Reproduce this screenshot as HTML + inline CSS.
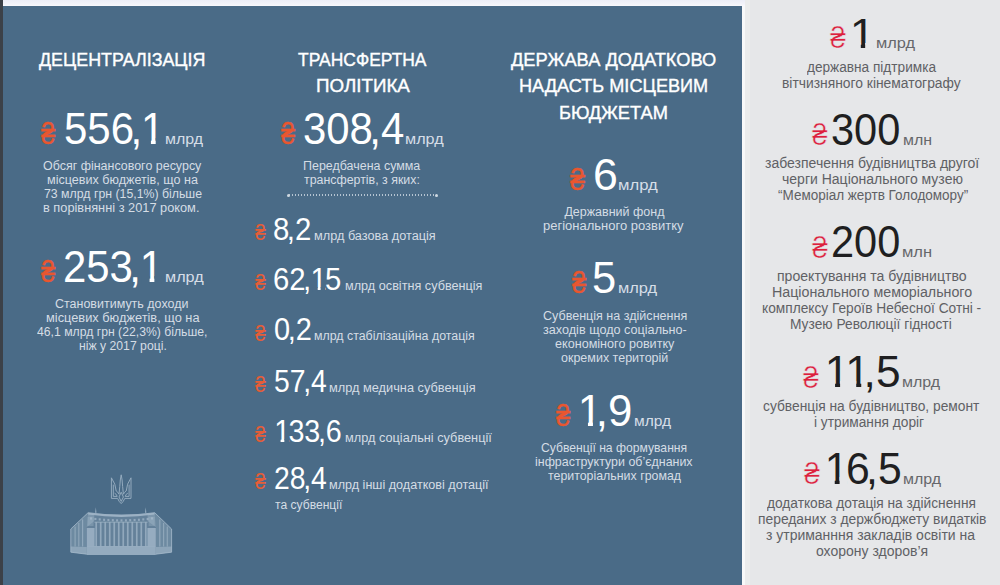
<!DOCTYPE html>
<html lang="uk"><head><meta charset="utf-8"><title>Бюджет 2018</title>
<style>
html,body{margin:0;padding:0}
body{width:1000px;height:585px;position:relative;overflow:hidden;background:#e6e7e9;font-family:"Liberation Sans",sans-serif}
.top{position:absolute;left:0;top:0;width:745px;height:6.5px;background:linear-gradient(#eceef7,#f3f4fa 60%,#fdfdfe)}
.panel{position:absolute;left:3px;top:6px;width:739px;height:579px;background:#4a6b87}
.edge{position:absolute;left:0;top:0;width:3px;height:585px;background:#3c4148}
.sep{position:absolute;left:742px;top:6px;width:3px;height:579px;background:#f8f9f9}
.sep2{position:absolute;left:745px;top:0;width:5px;height:585px;background:#ebecec}
h2,p,ul,li{margin:0;padding:0;list-style:none;font-size:inherit;font-weight:400}
.t{position:absolute;display:block;white-space:nowrap;line-height:1;margin:0;font-weight:400}
.cm{margin:0 0 0 -.085em;position:relative;z-index:1}
.o{position:relative;display:inline-block;margin:0 -.06em 0 -.03em}
.o:before,.o:after{content:"";position:absolute;bottom:.11em;height:.19em;background:#4a6b87}
.o:before{left:.04em;width:.2em}
.o:after{left:.351em;width:.175em}
.o.g:before,.o.g:after{background:#e6e7e9}
.dots{position:absolute;left:289px;top:194px;width:147px;height:2px;background:repeating-linear-gradient(90deg,#b4c3d1 0,#b4c3d1 1.5px,rgba(180,195,209,0) 1.5px,rgba(180,195,209,0) 3px)}
.dots:before,.dots:after{content:"";position:absolute;top:-0.5px;width:3px;height:3px;border-radius:50%;background:#cfd9e2}
.dots:before{left:-2px}.dots:after{right:-2px}
</style></head><body>
<div class="top"></div><div class="panel"></div><div class="edge"></div><div class="sep"></div><div class="sep2"></div>
<main>
<section class="col c1">
<h2>
<span class="t" style="font-size:19.2px;top:49.75px;color:#ffffff;left:38.60px;transform:scaleX(0.9307);transform-origin:0 50%;-webkit-text-stroke:0.4px #fff;">ДЕЦЕНТРАЛІЗАЦІЯ</span>
</h2>
<div class="stat">
<span class="t" style="font-size:29.2px;top:119.58px;color:#e9562f;left:41.00px;transform:scaleX(0.8789);transform-origin:0 50%;-webkit-text-stroke:0.35px #e9562f;">₴</span>
<span class="t" style="font-size:44px;top:106.95px;color:#ffffff;left:64.00px;transform:scaleX(0.9552);transform-origin:0 50%;">556<span class="cm">,</span><span class="o">1</span></span>
<span class="t" style="font-size:15.5px;top:131.08px;color:#d6dee7;left:165.00px;transform:scaleX(1.028);transform-origin:0 50%;">млрд</span>
</div>
<div class="stat">
<span class="t" style="font-size:29.2px;top:257.58px;color:#e9562f;left:41.00px;transform:scaleX(0.8789);transform-origin:0 50%;-webkit-text-stroke:0.35px #e9562f;">₴</span>
<span class="t" style="font-size:44px;top:244.95px;color:#ffffff;left:63.00px;transform:scaleX(0.9516);transform-origin:0 50%;">253<span class="cm">,</span><span class="o">1</span></span>
<span class="t" style="font-size:15.5px;top:269.08px;color:#d6dee7;left:165.00px;transform:scaleX(1.045);transform-origin:0 50%;">млрд</span>
</div>
<p>
<span class="t" style="font-size:12.5px;top:159.62px;color:#d5dde5;left:43.20px;transform:scaleX(0.997);transform-origin:0 50%;">Обсяг фінансового ресурсу</span>
<span class="t" style="font-size:12.5px;top:174.42px;color:#d5dde5;left:47.00px;transform:scaleX(1.007);transform-origin:0 50%;">місцевих бюджетів, що на</span>
<span class="t" style="font-size:12.5px;top:188.22px;color:#d5dde5;left:43.80px;transform:scaleX(0.9842);transform-origin:0 50%;">73 млрд грн (15,1%) більше</span>
<span class="t" style="font-size:12.5px;top:202.02px;color:#d5dde5;left:42.80px;transform:scaleX(1.023);transform-origin:0 50%;">в порівнянні з 2017 роком.</span>
</p>
<p>
<span class="t" style="font-size:12.5px;top:297.62px;color:#d5dde5;left:55.00px;transform:scaleX(0.9985);transform-origin:0 50%;">Становитимуть доходи</span>
<span class="t" style="font-size:12.5px;top:312.42px;color:#d5dde5;left:46.00px;transform:scaleX(1.024);transform-origin:0 50%;">місцевих бюджетів, що на</span>
<span class="t" style="font-size:12.5px;top:326.32px;color:#d5dde5;left:37.00px;transform:scaleX(0.977);transform-origin:0 50%;">46,1 млрд грн (22,3%) більше,</span>
<span class="t" style="font-size:12.5px;top:339.62px;color:#d5dde5;left:79.00px;transform:scaleX(0.9773);transform-origin:0 50%;">ніж у 2017 році.</span>
</p>
<svg class="ico" width="130" height="95" viewBox="60 468 130 95" style="position:absolute;left:60px;top:468px">
<g fill="none" stroke="#a9bdce" stroke-width="0.95" stroke-linejoin="round" opacity="0.81">
<path d="M111.4,477.8 V498.4 H117.6 Q119,501.8 121.2,503.6 Q123.4,501.8 124.8,498.4 H131 V477.8 Q126.6,484 126.2,491 Q124.4,492 123.4,494.2 Q122.5,486 122.1,480 L121.2,474.8 L120.3,480 Q119.9,486 119,494.2 Q118,492 116.2,491 Q115.8,484 111.4,477.8 Z"/>
<path d="M113.3,484.6 V496.4 H117.2 Q116.6,494 114.6,493.2 M129.1,484.6 V496.4 H125.2 Q125.8,494 127.8,493.2"/>
<path d="M121.2,492.2 L119,497 L121.2,501.4 L123.4,497 Z"/>
</g>
<g fill="#a9bdce">
<path d="M88.2,512.6 L70.8,529 L70.8,552.2 L86.8,554.2 L86.8,527 L94.3,521 L94.3,515 Z" opacity="0.38"/>
<path d="M154.6,512.6 L171.6,529 L171.6,552.2 L155.8,554.2 L155.8,527 L147.6,521 L147.6,515 Z" opacity="0.38"/>
<path d="M88.2,512.6 L70.8,529 L70.8,552.2 L86.8,554.2" fill="none" stroke="#a9bdce" stroke-width="1" opacity="0.77"/>
<path d="M154.6,512.6 L171.6,529 L171.6,552.2 L155.8,554.2" fill="none" stroke="#a9bdce" stroke-width="1" opacity="0.77"/>
<path d="M70.8,546.5 L86.8,547 L86.8,554.2 L70.8,552.2 Z" opacity="0.54"/>
<path d="M171.6,546.5 L155.8,547 L155.8,554.2 L171.6,552.2 Z" opacity="0.54"/>
<rect x="74.5" y="526.5" width="1.2" height="20.0" opacity="0.55"/>
<rect x="166.7" y="526.5" width="1.2" height="20.0" opacity="0.55"/>
<rect x="78.2" y="523.0" width="1.2" height="23.5" opacity="0.55"/>
<rect x="163.0" y="523.0" width="1.2" height="23.5" opacity="0.55"/>
<rect x="82.0" y="519.4" width="1.2" height="27.1" opacity="0.60"/>
<rect x="159.2" y="519.4" width="1.2" height="27.1" opacity="0.60"/>
<path d="M88.2,512.6 Q121.4,517.4 154.6,512.6 L155.8,527 L155.8,546.2 L86.8,546.2 L86.8,527 Z" opacity="0.27"/>
<path d="M88.2,512.2 Q121.4,517 154.6,512.2 L154.6,514.6 Q121.4,519.4 88.2,514.6 Z" opacity="0.81"/>
<rect x="90.0" y="517.4" width="2" height="2.2" opacity="0.68"/>
<rect x="94.4" y="517.9" width="2" height="2.2" opacity="0.68"/>
<rect x="98.7" y="518.3" width="2" height="2.2" opacity="0.68"/>
<rect x="103.1" y="518.7" width="2" height="2.2" opacity="0.68"/>
<rect x="107.4" y="518.9" width="2" height="2.2" opacity="0.68"/>
<rect x="111.8" y="519.1" width="2" height="2.2" opacity="0.68"/>
<rect x="116.1" y="519.3" width="2" height="2.2" opacity="0.68"/>
<rect x="120.5" y="519.3" width="2" height="2.2" opacity="0.68"/>
<rect x="124.9" y="519.3" width="2" height="2.2" opacity="0.68"/>
<rect x="129.2" y="519.1" width="2" height="2.2" opacity="0.68"/>
<rect x="133.6" y="518.9" width="2" height="2.2" opacity="0.68"/>
<rect x="137.9" y="518.7" width="2" height="2.2" opacity="0.68"/>
<rect x="142.3" y="518.3" width="2" height="2.2" opacity="0.68"/>
<rect x="146.6" y="517.9" width="2" height="2.2" opacity="0.68"/>
<rect x="151.0" y="517.3" width="2" height="2.2" opacity="0.68"/>
<rect x="86.8" y="528" width="7.8" height="18.2" opacity="0.72"/>
<rect x="147.4" y="528" width="8.4" height="18.2" opacity="0.72"/>
<rect x="87.6" y="517" width="6" height="9" opacity="0.32"/>
<rect x="148.6" y="517" width="6" height="9" opacity="0.32"/>
<rect x="95.35" y="522.2" width="1.7" height="24" opacity="0.65"/>
<rect x="99.86" y="522.2" width="1.7" height="24" opacity="0.65"/>
<rect x="104.37" y="522.2" width="1.7" height="24" opacity="0.65"/>
<rect x="108.88" y="522.2" width="1.7" height="24" opacity="0.65"/>
<rect x="113.39" y="522.2" width="1.7" height="24" opacity="0.65"/>
<rect x="117.90" y="522.2" width="1.7" height="24" opacity="0.65"/>
<rect x="122.40" y="522.2" width="1.7" height="24" opacity="0.65"/>
<rect x="126.91" y="522.2" width="1.7" height="24" opacity="0.65"/>
<rect x="131.42" y="522.2" width="1.7" height="24" opacity="0.65"/>
<rect x="135.93" y="522.2" width="1.7" height="24" opacity="0.65"/>
<rect x="140.44" y="522.2" width="1.7" height="24" opacity="0.65"/>
<rect x="144.95" y="522.2" width="1.7" height="24" opacity="0.65"/>
<rect x="94.4" y="521.6" width="53.2" height="1.2" opacity="0.54"/>
<rect x="86.8" y="546" width="69" height="9" opacity="0.79"/>
<path d="M95.1,512.8 L95.8,507.2 L96.5,512.8 Z M145.0,512.8 L145.7,507.2 L146.4,512.8 Z" opacity="0.81"/>
</g></svg>
</section>
<section class="col c2">
<h2>
<span class="t" style="font-size:19.2px;top:50.35px;color:#ffffff;left:298.40px;transform:scaleX(0.9085);transform-origin:0 50%;-webkit-text-stroke:0.4px #fff;">ТРАНСФЕРТНА</span>
<span class="t" style="font-size:19.2px;top:75.75px;color:#ffffff;left:315.60px;transform:scaleX(0.979);transform-origin:0 50%;-webkit-text-stroke:0.4px #fff;">ПОЛІТИКА</span>
</h2>
<div class="stat">
<span class="t" style="font-size:29.2px;top:120.38px;color:#e9562f;left:281.00px;transform:scaleX(0.8682);transform-origin:0 50%;-webkit-text-stroke:0.35px #e9562f;">₴</span>
<span class="t" style="font-size:44px;top:106.75px;color:#ffffff;left:302.60px;transform:scaleX(0.9518);transform-origin:0 50%;">308<span class="cm">,</span>4</span>
<span class="t" style="font-size:15.5px;top:130.88px;color:#d6dee7;left:405.00px;transform:scaleX(1.045);transform-origin:0 50%;">млрд</span>
</div>
<p>
<span class="t" style="font-size:12.5px;top:159.72px;color:#d5dde5;left:303.20px;transform:scaleX(0.9963);transform-origin:0 50%;">Передбачена сумма</span>
<span class="t" style="font-size:12.5px;top:173.72px;color:#d5dde5;left:304.20px;transform:scaleX(0.9911);transform-origin:0 50%;">трансфертів, з яких:</span>
</p>
<div class="dots"></div>
<ul>
<li>
<span class="t" style="font-size:22.6px;top:222.17px;color:#e65d37;left:254.50px;transform:scaleX(0.8584);transform-origin:0 50%;">₴</span>
<span class="t" style="font-size:30.8px;top:214.93px;color:#ffffff;left:273.00px;transform:scaleX(0.9533);transform-origin:0 50%;">8<span class="cm">,</span>2</span>
<span class="t" style="font-size:12.5px;top:230.42px;color:#d5dde5;left:314.00px;transform:scaleX(1.017);transform-origin:0 50%;">млрд базова дотація</span>
</li>
<li>
<span class="t" style="font-size:22.6px;top:272.17px;color:#e65d37;left:254.50px;transform:scaleX(0.8584);transform-origin:0 50%;">₴</span>
<span class="t" style="font-size:30.8px;top:264.93px;color:#ffffff;left:273.00px;transform:scaleX(0.9514);transform-origin:0 50%;">62<span class="cm">,</span><span class="o">1</span>5</span>
<span class="t" style="font-size:12.5px;top:280.42px;color:#d5dde5;left:345.00px;transform:scaleX(1.013);transform-origin:0 50%;">млрд освітня субвенція</span>
</li>
<li>
<span class="t" style="font-size:22.6px;top:322.67px;color:#e65d37;left:254.50px;transform:scaleX(0.8584);transform-origin:0 50%;">₴</span>
<span class="t" style="font-size:30.8px;top:315.43px;color:#ffffff;left:274.00px;transform:scaleX(0.9393);transform-origin:0 50%;">0<span class="cm">,</span>2</span>
<span class="t" style="font-size:12.5px;top:329.92px;color:#d5dde5;left:314.00px;transform:scaleX(0.9907);transform-origin:0 50%;">млрд стабілізаційна дотація</span>
</li>
<li>
<span class="t" style="font-size:22.6px;top:374.17px;color:#e65d37;left:254.50px;transform:scaleX(0.8584);transform-origin:0 50%;">₴</span>
<span class="t" style="font-size:30.8px;top:366.93px;color:#ffffff;left:274.00px;transform:scaleX(0.9204);transform-origin:0 50%;">57<span class="cm">,</span>4</span>
<span class="t" style="font-size:12.5px;top:382.42px;color:#d5dde5;left:329.00px;transform:scaleX(1.021);transform-origin:0 50%;">млрд медична субвенція</span>
</li>
<li>
<span class="t" style="font-size:22.6px;top:424.17px;color:#e65d37;left:254.50px;transform:scaleX(0.8584);transform-origin:0 50%;">₴</span>
<span class="t" style="font-size:30.8px;top:416.93px;color:#ffffff;left:275.00px;transform:scaleX(0.9317);transform-origin:0 50%;"><span class="o">1</span>33<span class="cm">,</span>6</span>
<span class="t" style="font-size:12.5px;top:432.42px;color:#d5dde5;left:345.00px;transform:scaleX(1.019);transform-origin:0 50%;">млрд соціальні субвенції</span>
</li>
<li>
<span class="t" style="font-size:22.6px;top:471.17px;color:#e65d37;left:254.50px;transform:scaleX(0.8584);transform-origin:0 50%;">₴</span>
<span class="t" style="font-size:30.8px;top:463.93px;color:#ffffff;left:274.00px;transform:scaleX(0.9204);transform-origin:0 50%;">28<span class="cm">,</span>4</span>
<span class="t" style="font-size:12.5px;top:479.42px;color:#d5dde5;left:329.00px;transform:scaleX(1.008);transform-origin:0 50%;">млрд інші додаткові дотації</span>
<span class="t" style="font-size:12.5px;top:499.17px;color:#d5dde5;left:275.00px;transform:scaleX(0.9678);transform-origin:0 50%;">та субвенції</span>
</li>
</ul>
</section>
<section class="col c3">
<h2>
<span class="t" style="font-size:19.2px;top:49.55px;color:#ffffff;left:511.00px;transform:scaleX(0.9519);transform-origin:0 50%;-webkit-text-stroke:0.4px #fff;">ДЕРЖАВА ДОДАТКОВО</span>
<span class="t" style="font-size:19.2px;top:76.25px;color:#ffffff;left:519.20px;transform:scaleX(0.9447);transform-origin:0 50%;-webkit-text-stroke:0.4px #fff;">НАДАСТЬ МІСЦЕВИМ</span>
<span class="t" style="font-size:19.2px;top:103.05px;color:#ffffff;left:558.80px;transform:scaleX(0.9518);transform-origin:0 50%;-webkit-text-stroke:0.4px #fff;">БЮДЖЕТАМ</span>
</h2>
<div class="stat">
<span class="t" style="font-size:29.2px;top:165.68px;color:#e9562f;left:570.00px;transform:scaleX(0.9259);transform-origin:0 50%;-webkit-text-stroke:0.35px #e9562f;">₴</span>
<span class="t" style="font-size:44px;top:153.05px;color:#ffffff;left:592.60px;transform:scaleX(1.016);transform-origin:0 50%;">6</span>
<span class="t" style="font-size:15.5px;top:176.68px;color:#d6dee7;left:618.20px;transform:scaleX(1.073);transform-origin:0 50%;">млрд</span>
</div>
<p>
<span class="t" style="font-size:12.5px;top:205.52px;color:#d5dde5;left:564.40px;transform:scaleX(1);transform-origin:0 50%;">Державний фонд</span>
<span class="t" style="font-size:12.5px;top:219.52px;color:#d5dde5;left:543.00px;transform:scaleX(1.04);transform-origin:0 50%;">регіонального розвитку</span>
</p>
<div class="stat">
<span class="t" style="font-size:29.2px;top:269.18px;color:#e9562f;left:572.00px;transform:scaleX(0.8789);transform-origin:0 50%;-webkit-text-stroke:0.35px #e9562f;">₴</span>
<span class="t" style="font-size:44px;top:255.55px;color:#ffffff;left:592.40px;transform:scaleX(0.9889);transform-origin:0 50%;">5</span>
<span class="t" style="font-size:15.5px;top:279.68px;color:#d6dee7;left:618.00px;transform:scaleX(1.059);transform-origin:0 50%;">млрд</span>
</div>
<p>
<span class="t" style="font-size:12.5px;top:309.92px;color:#d5dde5;left:543.00px;transform:scaleX(1.004);transform-origin:0 50%;">Субвенція на здійснення</span>
<span class="t" style="font-size:12.5px;top:324.12px;color:#d5dde5;left:543.00px;transform:scaleX(1.011);transform-origin:0 50%;">заходів щодо соціально-</span>
<span class="t" style="font-size:12.5px;top:337.62px;color:#d5dde5;left:555.40px;transform:scaleX(1.008);transform-origin:0 50%;">економіного ровитку</span>
<span class="t" style="font-size:12.5px;top:351.62px;color:#d5dde5;left:561.00px;transform:scaleX(0.9998);transform-origin:0 50%;">окремих територій</span>
</p>
<div class="stat">
<span class="t" style="font-size:29.2px;top:401.58px;color:#e9562f;left:556.00px;transform:scaleX(0.8789);transform-origin:0 50%;-webkit-text-stroke:0.35px #e9562f;">₴</span>
<span class="t" style="font-size:44px;top:388.95px;color:#ffffff;left:578.80px;transform:scaleX(0.9953);transform-origin:0 50%;"><span class="o">1</span><span class="cm">,</span>9</span>
<span class="t" style="font-size:15.5px;top:413.08px;color:#d6dee7;left:634.40px;transform:scaleX(1.004);transform-origin:0 50%;">млрд</span>
</div>
<p>
<span class="t" style="font-size:12.2px;top:441.87px;color:#d5dde5;left:541.00px;transform:scaleX(0.9969);transform-origin:0 50%;">Субвенції на формування</span>
<span class="t" style="font-size:12.2px;top:455.67px;color:#d5dde5;left:535.40px;transform:scaleX(1.02);transform-origin:0 50%;">інфраструктури об’єднаних</span>
<span class="t" style="font-size:12.2px;top:469.67px;color:#d5dde5;left:548.00px;transform:scaleX(1.015);transform-origin:0 50%;">територіальних громад</span>
</p>
</section>
<aside class="col c4">
<div class="stat">
<span class="t" style="font-size:28.6px;top:23.99px;color:#dd1f3d;left:830.00px;-webkit-text-stroke:0.55px #e6e7e9;">₴</span>
<span class="t" style="font-size:42px;top:13.45px;color:#1f1f21;left:851.00px;transform:scaleX(1.09);transform-origin:0 50%;"><span class="o g">1</span></span>
<span class="t" style="font-size:15.5px;top:34.88px;color:#66676b;left:876.00px;transform:scaleX(1.056);transform-origin:0 50%;">млрд</span>
</div>
<p>
<span class="t" style="font-size:13.85px;top:61.28px;color:#606165;left:807.00px;transform:scaleX(0.9847);transform-origin:0 50%;">державна підтримка</span>
<span class="t" style="font-size:13.85px;top:76.88px;color:#606165;left:782.00px;">вітчизняного кінематографу</span>
</p>
<div class="stat">
<span class="t" style="font-size:28.6px;top:120.59px;color:#dd1f3d;left:812.00px;transform:scaleX(0.9802);transform-origin:0 50%;-webkit-text-stroke:0.55px #e6e7e9;">₴</span>
<span class="t" style="font-size:44px;top:108.35px;color:#1f1f21;left:831.20px;transform:scaleX(0.9439);transform-origin:0 50%;">300</span>
<span class="t" style="font-size:15.5px;top:132.48px;color:#66676b;left:902.60px;transform:scaleX(1.027);transform-origin:0 50%;">млн</span>
</div>
<p>
<span class="t" style="font-size:13.85px;top:157.28px;color:#606165;left:764.60px;transform:scaleX(1.012);transform-origin:0 50%;">забезпечення будівництва другої</span>
<span class="t" style="font-size:13.85px;top:173.28px;color:#606165;left:782.00px;transform:scaleX(1.012);transform-origin:0 50%;">черги Національного музею</span>
<span class="t" style="font-size:13.85px;top:189.28px;color:#606165;left:777.60px;transform:scaleX(0.9746);transform-origin:0 50%;">“Меморіал жертв Голодомору”</span>
</p>
<div class="stat">
<span class="t" style="font-size:28.6px;top:234.29px;color:#dd1f3d;left:812.00px;transform:scaleX(1.002);transform-origin:0 50%;-webkit-text-stroke:0.55px #e6e7e9;">₴</span>
<span class="t" style="font-size:44px;top:220.05px;color:#1f1f21;left:830.60px;transform:scaleX(0.9429);transform-origin:0 50%;">200</span>
<span class="t" style="font-size:15.5px;top:244.18px;color:#66676b;left:902.20px;transform:scaleX(1.065);transform-origin:0 50%;">млн</span>
</div>
<p>
<span class="t" style="font-size:13.85px;top:270.18px;color:#606165;left:777.40px;transform:scaleX(1.016);transform-origin:0 50%;">проектування та будівництво</span>
<span class="t" style="font-size:13.85px;top:286.18px;color:#606165;left:771.60px;transform:scaleX(1.028);transform-origin:0 50%;">Національного меморіального</span>
<span class="t" style="font-size:13.85px;top:302.18px;color:#606165;left:762.40px;transform:scaleX(0.9909);transform-origin:0 50%;">комплексу Героїв Небесної Сотні -</span>
<span class="t" style="font-size:13.85px;top:318.18px;color:#606165;left:790.00px;transform:scaleX(0.9941);transform-origin:0 50%;">Музею Революції гідності</span>
</p>
<div class="stat">
<span class="t" style="font-size:28.6px;top:364.29px;color:#dd1f3d;left:802.80px;transform:scaleX(0.9976);transform-origin:0 50%;-webkit-text-stroke:0.55px #e6e7e9;">₴</span>
<span class="t" style="font-size:44px;top:350.05px;color:#1f1f21;left:826.00px;transform:scaleX(1.007);transform-origin:0 50%;"><span class="o g">1</span><span class="o g">1</span><span class="cm">,</span>5</span>
<span class="t" style="font-size:15.5px;top:374.18px;color:#66676b;left:902.20px;transform:scaleX(1.03);transform-origin:0 50%;">млрд</span>
</div>
<p>
<span class="t" style="font-size:13.85px;top:400.28px;color:#606165;left:763.40px;transform:scaleX(0.9951);transform-origin:0 50%;">субвенція на будівництво, ремонт</span>
<span class="t" style="font-size:13.85px;top:416.38px;color:#606165;left:814.20px;transform:scaleX(0.9909);transform-origin:0 50%;">і утримання доріг</span>
</p>
<div class="stat">
<span class="t" style="font-size:28.6px;top:459.79px;color:#dd1f3d;left:803.50px;transform:scaleX(1.004);transform-origin:0 50%;-webkit-text-stroke:0.55px #e6e7e9;">₴</span>
<span class="t" style="font-size:44px;top:446.55px;color:#1f1f21;left:826.40px;transform:scaleX(0.9711);transform-origin:0 50%;"><span class="o g">1</span>6<span class="cm">,</span>5</span>
<span class="t" style="font-size:15.5px;top:470.68px;color:#66676b;left:902.80px;transform:scaleX(1.03);transform-origin:0 50%;">млрд</span>
</div>
<p>
<span class="t" style="font-size:13.85px;top:496.98px;color:#606165;left:767.00px;transform:scaleX(0.9908);transform-origin:0 50%;">додаткова дотація на здійснення</span>
<span class="t" style="font-size:13.85px;top:513.23px;color:#606165;left:757.60px;transform:scaleX(0.9997);transform-origin:0 50%;">переданих з держбюджету видатків</span>
<span class="t" style="font-size:13.85px;top:529.48px;color:#606165;left:765.80px;transform:scaleX(1.009);transform-origin:0 50%;">з утриманння закладів освіти на</span>
<span class="t" style="font-size:13.85px;top:544.73px;color:#606165;left:816.20px;transform:scaleX(1.01);transform-origin:0 50%;">охорону здоров’я</span>
</p>
</aside>
</main>
</body></html>
